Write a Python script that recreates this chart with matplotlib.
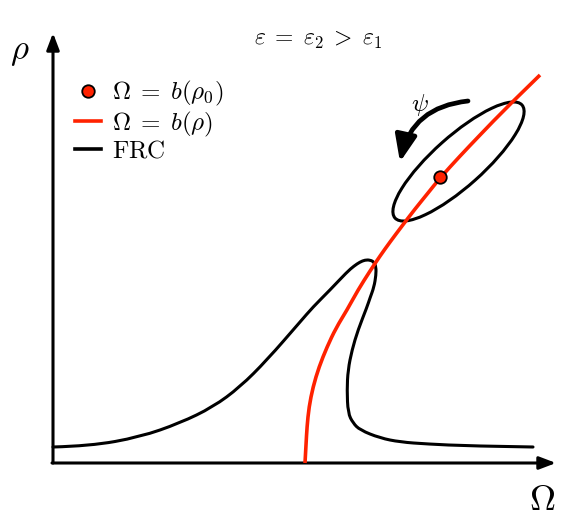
import numpy as np
import matplotlib
matplotlib.use("Agg")
import matplotlib.pyplot as plt
from matplotlib.patches import Ellipse, FancyArrowPatch, PathPatch
from matplotlib.path import Path
from matplotlib.lines import Line2D

plt.rcParams['mathtext.fontset'] = 'cm'
plt.rcParams['font.family'] = ['DejaVu Serif']

# ---- data (Omega, rho) in schematic units, origin at the axes corner ----
frc_omega = [0.01, 0.38, 0.88, 1.28, 1.61, 1.88, 2.15, 2.48, 2.61, 2.78, 2.95,
             3.02, 3.08, 3.13, 3.18, 3.22, 3.24, 3.24, 3.22, 3.18, 3.15, 3.06,
             3.00, 2.96, 2.95, 2.96, 3.01, 3.08, 3.28, 3.48, 3.75, 4.18, 4.81]
frc_rho = [0.16, 0.17, 0.26, 0.40, 0.56, 0.76, 1.03, 1.41, 1.56, 1.73, 1.91,
           1.97, 2.01, 2.03, 2.03, 2.01, 1.96, 1.88, 1.76, 1.65, 1.56, 1.33,
           1.13, 0.93, 0.73, 0.50, 0.40, 0.33, 0.25, 0.21, 0.19, 0.17, 0.16]

bb_omega = [2.53, 2.54, 2.55, 2.57, 2.61, 2.67, 2.75, 2.84, 2.95, 3.06, 3.18,
            3.28, 3.38, 3.50, 3.63, 3.76, 3.88, 4.08, 4.28, 4.55, 4.88]
bb_rho = [0.00, 0.18, 0.36, 0.56, 0.76, 0.96, 1.16, 1.35, 1.53, 1.73, 1.92,
          2.07, 2.21, 2.37, 2.54, 2.70, 2.85, 3.07, 3.28, 3.56, 3.88]

rho0_omega = 3.88
rho0_rho = 2.86

isola_center = (4.065, 3.015)
isola_width = 1.70
isola_height = 0.50
isola_angle = 41.7

RED = '#ff2200'


def smooth_path(xs, ys):
    """Quadratic B-spline path drawn by matplotlib through the read points."""
    pts = list(zip(xs, ys))
    verts = [pts[0]]
    codes = [Path.MOVETO]
    for i in range(1, len(pts) - 1):
        nxt = pts[i + 1] if i == len(pts) - 2 else (
            (pts[i][0] + pts[i + 1][0]) / 2, (pts[i][1] + pts[i + 1][1]) / 2)
        verts += [pts[i], nxt]
        codes += [Path.CURVE3, Path.CURVE3]
    return Path(verts, codes)


fig = plt.figure(figsize=(5.84, 5.21), dpi=100)
ax = fig.add_axes([0, 0, 1, 1])
ax.set_xlim(-0.52, 5.32)
ax.set_ylim(-0.58, 4.63)
ax.axis('off')

# axes arrows
ax.annotate('', xy=(5.04, 0), xytext=(0, 0),
            arrowprops=dict(arrowstyle='-|>,head_length=1.0,head_width=0.38',
                            lw=2.2, color='black', shrinkA=0, shrinkB=0))
ax.annotate('', xy=(0.01, 4.30), xytext=(0.01, 0),
            arrowprops=dict(arrowstyle='-|>,head_length=1.0,head_width=0.38',
                            lw=2.2, color='black', shrinkA=0, shrinkB=0))
ax.text(-0.32, 4.12, r'$\rho$', fontsize=25, ha='center', va='center')
ax.text(4.90, -0.37, r'$\Omega$', fontsize=26, ha='center', va='center')

# curves
ax.add_patch(PathPatch(smooth_path(frc_omega, frc_rho), fill=False,
                       edgecolor='black', lw=2.2, capstyle='round', zorder=3))
ax.add_patch(PathPatch(smooth_path(bb_omega, bb_rho), fill=False,
                       edgecolor=RED, lw=2.6, zorder=4))
ax.add_patch(Ellipse(isola_center, isola_width, isola_height, angle=isola_angle,
                     fill=False, edgecolor='black', lw=2.2, zorder=3))
ax.plot([rho0_omega], [rho0_rho], 'o', ms=9, mfc=RED, mec='black',
        mew=1.3, zorder=5)

# rotation arrow psi
ax.add_patch(FancyArrowPatch((4.16, 3.62), (3.48, 3.01),
                             connectionstyle='arc3,rad=0.36',
                             arrowstyle='-|>,head_length=16,head_width=6.5',
                             shrinkA=0, shrinkB=0,
                             lw=3.4, color='black', zorder=5))
ax.text(3.68, 3.58, r'$\psi$', fontsize=18, ha='center', va='center')

ax.text(2.66, 4.23, r'$\varepsilon\;=\;\varepsilon_2\;>\;\varepsilon_1$',
        fontsize=17, ha='center', va='center')

handles = [Line2D([], [], ls='none', marker='o', ms=9, mfc=RED, mec='black', mew=1.3),
           Line2D([], [], color=RED, lw=2.6),
           Line2D([], [], color='black', lw=2.6)]
labels = [r'$\Omega\;=\;b(\rho_0)$', r'$\Omega\;=\;b(\rho)$', r'$\mathrm{FRC}$']
ax.legend(handles, labels, loc='upper left', bbox_to_anchor=(0.128, 0.848),
          frameon=False, fontsize=18, handlelength=1.05, handletextpad=0.45,
          labelspacing=0.05, borderpad=0, borderaxespad=0)

fig.savefig('out.png', dpi=100)
